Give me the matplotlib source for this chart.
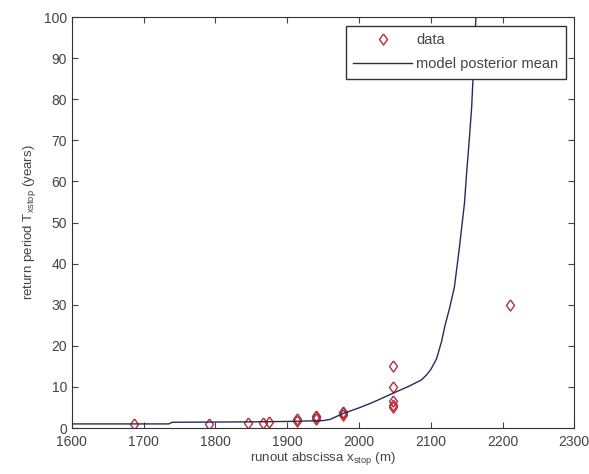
import matplotlib
matplotlib.use("Agg")
import matplotlib.pyplot as plt

# observed runout abscissa (m) and return period (years)
data_x = [1686, 1791, 1846, 1867, 1874, 1914, 1914, 1940, 1940, 1940,
          1978, 1978, 1978, 2048, 2048, 2048, 2048, 2048, 2210]
data_T = [1.0, 1.1, 1.2, 1.3, 1.4, 1.8, 2.1, 2.2, 2.6, 3.0,
          3.2, 3.6, 4.0, 5.0, 5.5, 6.5, 10, 15, 30]

# model posterior mean curve
model_x = [1600, 1735, 1740, 1850, 1900, 1950, 1960, 1976, 2000, 2020,
           2048, 2070, 2087, 2094, 2100, 2108, 2115, 2120, 2126, 2133,
           2140, 2147, 2150, 2154, 2157, 2159, 2163]
model_T = [1.0, 1.0, 1.4, 1.5, 1.6, 1.8, 2.1, 3.4, 4.9, 6.3,
           8.5, 10.2, 11.7, 12.9, 14.2, 16.8, 21, 25, 29, 34.3,
           44, 54.7, 62, 70.8, 78, 85.4, 100]

plt.rcParams['font.family'] = ['Liberation Sans', 'DejaVu Sans']
grey = '#444444'

# matlab-like diamond, a bit wider than matplotlib's thin 'd'
diamond = [(0, 1), (0.72, 0), (0, -1), (-0.72, 0), (0, 1)]

fig = plt.figure(figsize=(5.89, 4.74), dpi=100)
ax = fig.add_axes([0.122, 0.097, 0.853, 0.867])

ax.plot(data_x, data_T, marker=diamond, ls='none', mfc='none', mec='#b0303c',
        ms=8, mew=1.0, label='data')
ax.plot(model_x, model_T, '-', color='#2a2a5a', lw=1.0,
        label='model posterior mean')

ax.set_xlim(1600, 2300)
ax.set_ylim(0, 100)
ax.set_xticks(range(1600, 2301, 100))
ax.set_yticks(range(0, 101, 10))
ax.tick_params(direction='in', top=True, right=True, length=4,
               labelsize=10, colors=grey, labelcolor=grey)
ax.tick_params(axis='x', pad=5)
for s in ax.spines.values():
    s.set_color('#333333')

ax.set_xlabel(r'runout abscissa x$_{\mathregular{stop}}$ (m)', fontsize=9.5,
              color=grey, labelpad=1)
ax.set_ylabel(r'return period T$_{\mathregular{xstop}}$ (years)', fontsize=9.5,
              color=grey, labelpad=4)

leg = ax.legend(loc='upper right', fontsize=10.5, fancybox=False,
                edgecolor='#333333', framealpha=1, borderaxespad=0.6,
                borderpad=0.5, labelspacing=0.7, handlelength=4.0,
                handletextpad=0.3, labelcolor=grey)
leg.get_frame().set_linewidth(1.0)

fig.savefig('out.png', dpi=100)
